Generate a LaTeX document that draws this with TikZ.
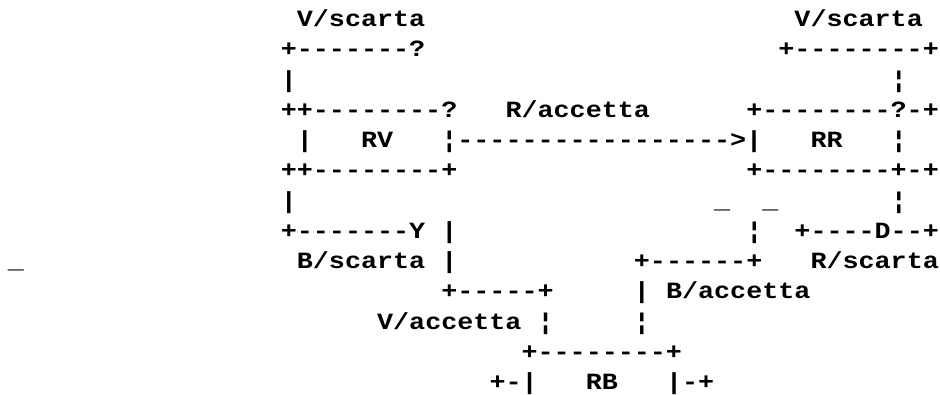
\documentclass[tikz,border=0pt]{standalone}
\usepackage{fontspec}
\setmonofont{Liberation Mono}[FakeStretch=1.15]
\begin{document}
\begin{tikzpicture}[x=1pt,y=-1pt,
  seg/.style={anchor=base west, inner sep=0pt, outer sep=0pt,
    font=\ttfamily\bfseries\fontsize{23.25}{28}\selectfont, text=black}]
\def\ox{8}\def\cw{16.05}\def\oy{26.5}\def\lh{30.25}
\newcommand\tx[4]{\node[seg] (#1) at ({\ox+\cw*#2},{\oy+\lh*#3}) {#4};}
\fill[white] (0,0) rectangle (940,394);
\useasboundingbox (0,0) rectangle (940,394);
% row 0
\tx{vsl}{18}{0}{V/scarta}
\tx{vsr}{49}{0}{V/scarta}
% row 1
\tx{r1a}{17}{1}{+-------?}
\tx{r1b}{48}{1}{+--------+}
% row 2
\tx{r2a}{17}{2}{|}
\tx{r2b}{55}{2}{¦}
% row 3
\tx{rvtop}{17}{3}{++--------?}
\tx{racc}{31}{3}{R/accetta}
\tx{rrtop}{46}{3}{+--------?-+}
% row 4
\tx{r4a}{18}{4}{|}
\tx{RV}{22}{4}{RV}
\tx{arrow}{27}{4}{¦----------------->|}
\tx{RR}{50}{4}{RR}
\tx{r4b}{55}{4}{¦}
% row 5
\tx{rvbot}{17}{5}{++--------+}
\tx{rrbot}{46}{5}{+--------+-+}
% row 6
\tx{r6a}{17}{6}{|}
\tx{u1}{44}{6}{\_}
\tx{u2}{47}{6}{\_}
\tx{r6b}{55}{6}{¦}
% row 7
\tx{r7a}{17}{7}{+-------Y}
\tx{r7b}{27}{7}{|}
\tx{r7c}{46}{7}{¦}
\tx{r7d}{49}{7}{+----D--+}
% row 8
\tx{u0}{0}{8}{\_}
\tx{bsc}{18}{8}{B/scarta}
\tx{r8a}{27}{8}{|}
\tx{r8b}{39}{8}{+------+}
\tx{rsc}{50}{8}{R/scarta}
% row 9
\tx{r9a}{27}{9}{+-----+}
\tx{r9b}{39}{9}{|}
\tx{bacc}{41}{9}{B/accetta}
% row 10
\tx{vacc}{23}{10}{V/accetta}
\tx{r10a}{33}{10}{¦}
\tx{r10b}{39}{10}{¦}
% row 11
\tx{rbtop}{32}{11}{+--------+}
% row 12
\tx{r12a}{30}{12}{+-|}
\tx{RB}{36}{12}{RB}
\tx{r12b}{41}{12}{|-+}
\end{tikzpicture}
\end{document}
